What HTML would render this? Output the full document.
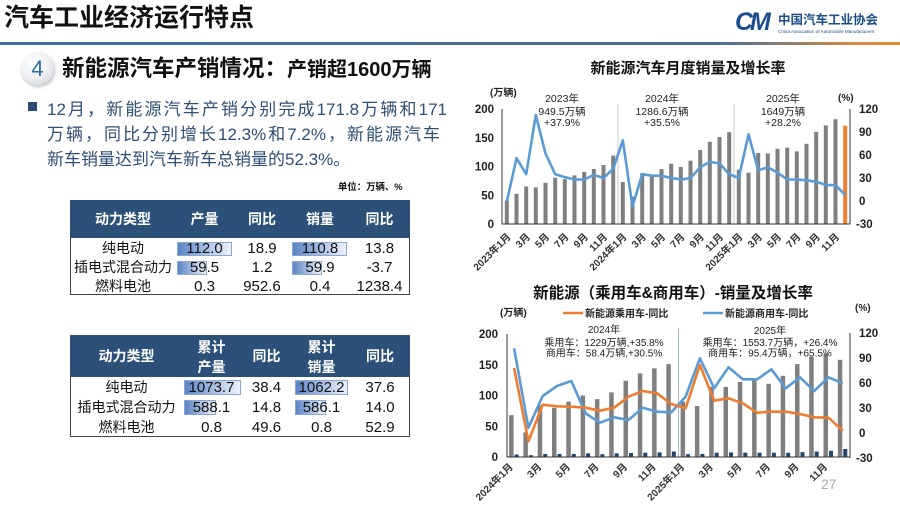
<!DOCTYPE html>
<html><head><meta charset="utf-8">
<style>
*{margin:0;padding:0;box-sizing:border-box}
html,body{width:900px;height:508px;overflow:hidden;background:#fff}
body{position:relative;font-family:"Liberation Sans","Noto Sans CJK SC",sans-serif;color:#111}
.a{position:absolute;white-space:nowrap}
.hd{position:absolute;color:#fff;font-weight:bold;font-size:14px;text-align:center;line-height:16px}
.c{position:absolute;text-align:center;font-size:15px;color:#111;line-height:19px}
.cj{font-size:14px}
.bar{position:absolute;background:linear-gradient(to right,#5a84c3 0%,#9db6df 45%,#eef3fa 100%);border:1px solid #8ca7d6}
</style></head><body>

<div class="a" style="left:4px;top:3px;font-size:25px;font-weight:bold;line-height:30px;color:#111">汽车工业经济运行特点</div>
<div class="a" style="left:735px;top:8px;font-size:25px;font-weight:bold;font-style:italic;color:#1b4d8a;letter-spacing:-3px;line-height:28px">CM</div>
<div class="a" style="left:778px;top:12px;font-size:12.5px;font-weight:bold;color:#1b4d8a;line-height:16px">中国汽车工业协会</div>
<div class="a" style="left:778px;top:29px;font-size:4.6px;color:#1b4d8a;line-height:6px">China Association of Automobile Manufacturers</div>
<div class="a" style="left:0;top:42px;width:900px;height:3px;background:linear-gradient(to right,#3e6e9a 0%,#46709a 80%,#d98b3f 95%,#e08d3a 100%)"></div>

<div class="a" style="left:21px;top:52px;width:33px;height:33px;border-radius:50%;background:radial-gradient(circle at 40% 35%,#ffffff 0%,#eef0f3 50%,#c3c8d0 100%);box-shadow:1px 2px 3px rgba(0,0,0,.25);text-align:center;line-height:33px;font-size:22px;color:#2e6ca4">4</div>
<div class="a" style="left:62px;top:55px;font-size:22.5px;font-weight:bold;line-height:28px;color:#111">新能源汽车产销情况：<span style="font-size:20px">产销超1600万辆</span></div>

<div class="a" style="left:28px;top:102px;width:9px;height:9px;background:#2b4c70"></div>
<div class="a" style="left:47px;top:97px;width:400px;font-size:17px;line-height:25px;color:#2f4f75;text-align:justify;text-align-last:justify;white-space:normal">12月，新能源汽车产销分别完成171.8万辆和171</div>
<div class="a" style="left:47px;top:122px;width:393px;font-size:17px;line-height:25px;color:#2f4f75;text-align:justify;text-align-last:justify;white-space:normal">万辆，同比分别增长12.3%和7.2%，新能源汽车</div>
<div class="a" style="left:47px;top:147px;font-size:17px;line-height:25px;color:#2f4f75">新车销量达到汽车新车总销量的52.3%。</div>

<div class="a" style="left:338px;top:181px;font-size:9.4px;font-weight:bold;line-height:12px;color:#111">单位：万辆、%</div>

<!-- Table 1 -->
<div class="a" style="left:70px;top:200px;width:340px;height:95px;border:1px solid #444"></div>
<div class="a" style="left:70px;top:200px;width:340px;height:38px;background:#2c5179"></div>
<div class="hd" style="left:70px;width:106px;top:211px">动力类型</div>
<div class="hd" style="left:176px;width:57px;top:211px">产量</div>
<div class="hd" style="left:233px;width:58px;top:211px">同比</div>
<div class="hd" style="left:291px;width:58px;top:211px">销量</div>
<div class="hd" style="left:349px;width:61px;top:211px">同比</div>
<div class="bar" style="left:177px;top:242px;width:55px;height:14px"></div>
<div class="bar" style="left:177px;top:261px;width:30px;height:14px"></div>
<div class="bar" style="left:292px;top:242px;width:55px;height:14px"></div>
<div class="bar" style="left:292px;top:261px;width:30px;height:14px"></div>
<div class="c cj" style="left:70px;width:106px;top:238.5px">纯电动</div>
<div class="c cj" style="left:70px;width:106px;top:257.5px">插电式混合动力</div>
<div class="c cj" style="left:70px;width:106px;top:276.5px">燃料电池</div>
<div class="c" style="left:176px;width:57px;top:238.5px">112.0</div>
<div class="c" style="left:176px;width:57px;top:257.5px">59.5</div>
<div class="c" style="left:176px;width:57px;top:276.5px">0.3</div>
<div class="c" style="left:233px;width:58px;top:238.5px">18.9</div>
<div class="c" style="left:233px;width:58px;top:257.5px">1.2</div>
<div class="c" style="left:233px;width:58px;top:276.5px">952.6</div>
<div class="c" style="left:291px;width:58px;top:238.5px">110.8</div>
<div class="c" style="left:291px;width:58px;top:257.5px">59.9</div>
<div class="c" style="left:291px;width:58px;top:276.5px">0.4</div>
<div class="c" style="left:349px;width:61px;top:238.5px">13.8</div>
<div class="c" style="left:349px;width:61px;top:257.5px">-3.7</div>
<div class="c" style="left:349px;width:61px;top:276.5px">1238.4</div>

<!-- Table 2 -->
<div class="a" style="left:70px;top:335px;width:340px;height:102px;border:1px solid #444"></div>
<div class="a" style="left:70px;top:335px;width:340px;height:42px;background:#2c5179"></div>
<div class="hd" style="left:70px;width:113px;top:348px">动力类型</div>
<div class="hd" style="left:183px;width:57px;top:337px;line-height:20px">累计<br>产量</div>
<div class="hd" style="left:240px;width:53px;top:348px">同比</div>
<div class="hd" style="left:293px;width:57px;top:337px;line-height:20px">累计<br>销量</div>
<div class="hd" style="left:350px;width:60px;top:348px">同比</div>
<div class="bar" style="left:184px;top:380px;width:57px;height:15px"></div>
<div class="bar" style="left:184px;top:400px;width:32px;height:15px"></div>
<div class="bar" style="left:295px;top:380px;width:53px;height:15px"></div>
<div class="bar" style="left:295px;top:400px;width:31px;height:15px"></div>
<div class="c cj" style="left:70px;width:113px;top:377.5px">纯电动</div>
<div class="c cj" style="left:70px;width:113px;top:397.5px">插电式混合动力</div>
<div class="c cj" style="left:70px;width:113px;top:417.5px">燃料电池</div>
<div class="c" style="left:183px;width:57px;top:377.5px">1073.7</div>
<div class="c" style="left:183px;width:57px;top:397.5px">588.1</div>
<div class="c" style="left:183px;width:57px;top:417.5px">0.8</div>
<div class="c" style="left:240px;width:53px;top:377.5px">38.4</div>
<div class="c" style="left:240px;width:53px;top:397.5px">14.8</div>
<div class="c" style="left:240px;width:53px;top:417.5px">49.6</div>
<div class="c" style="left:293px;width:57px;top:377.5px">1062.2</div>
<div class="c" style="left:293px;width:57px;top:397.5px">586.1</div>
<div class="c" style="left:293px;width:57px;top:417.5px">0.8</div>
<div class="c" style="left:350px;width:60px;top:377.5px">37.6</div>
<div class="c" style="left:350px;width:60px;top:397.5px">14.0</div>
<div class="c" style="left:350px;width:60px;top:417.5px">52.9</div>

<svg class="a" style="left:0;top:0" width="900" height="508" viewBox="0 0 900 508" font-family="Liberation Sans, Noto Sans CJK SC, sans-serif">
<!-- ===== Chart 1 ===== -->
<text x="688" y="73" text-anchor="middle" font-size="15" font-weight="bold" fill="#111">新能源汽车月度销量及增长率</text>
<line x1="618" y1="104" x2="618" y2="224" stroke="#b8c0c8" stroke-width="0.8"/>
<line x1="734" y1="104" x2="734" y2="224" stroke="#b8c0c8" stroke-width="0.8"/>
<g fill="#7f7f7f">
<rect x="504.8" y="200.5" width="4" height="23.5"/><rect x="514.5" y="193.8" width="4" height="30.2"/><rect x="524.2" y="186.5" width="4" height="37.5"/><rect x="533.8" y="187.4" width="4" height="36.6"/><rect x="543.5" y="182.8" width="4" height="41.2"/><rect x="553.2" y="177.7" width="4" height="46.3"/><rect x="562.8" y="179.1" width="4" height="44.9"/><rect x="572.5" y="175.4" width="4" height="48.6"/><rect x="582.2" y="172.0" width="4" height="52.0"/><rect x="591.8" y="169.0" width="4" height="55.0"/><rect x="601.5" y="165.0" width="4" height="59.0"/><rect x="611.2" y="155.5" width="4" height="68.5"/>
<rect x="620.8" y="182.1" width="4" height="41.9"/><rect x="630.5" y="196.6" width="4" height="27.4"/><rect x="640.2" y="173.2" width="4" height="50.8"/><rect x="649.8" y="175.1" width="4" height="48.9"/><rect x="659.5" y="169.1" width="4" height="54.9"/><rect x="669.2" y="163.7" width="4" height="60.3"/><rect x="678.8" y="167.0" width="4" height="57.0"/><rect x="688.5" y="160.7" width="4" height="63.3"/><rect x="698.2" y="150.0" width="4" height="74.0"/><rect x="707.8" y="141.8" width="4" height="82.2"/><rect x="717.5" y="137.1" width="4" height="86.9"/><rect x="727.2" y="132.2" width="4" height="91.8"/>
<rect x="736.8" y="169.7" width="4" height="54.3"/><rect x="746.5" y="172.7" width="4" height="51.3"/><rect x="756.2" y="152.9" width="4" height="71.1"/><rect x="765.8" y="153.5" width="4" height="70.5"/><rect x="775.5" y="148.8" width="4" height="75.2"/><rect x="785.2" y="147.6" width="4" height="76.4"/><rect x="794.8" y="151.4" width="4" height="72.6"/><rect x="804.5" y="143.8" width="4" height="80.2"/><rect x="814.2" y="131.8" width="4" height="92.2"/><rect x="823.8" y="125.4" width="4" height="98.6"/><rect x="833.5" y="119.2" width="4" height="104.8"/>
</g>
<rect x="843.2" y="125.7" width="4" height="98.3" fill="#ed7d31"/>
<polyline fill="none" stroke="#5b9bd5" stroke-width="2.6" stroke-linejoin="round" points="506.8,201.8 516.5,158.1 526.2,174.2 535.8,115.1 545.5,153.5 555.2,174.2 564.8,177.2 574.5,179.5 584.2,179.5 593.8,174.9 603.5,178.0 613.2,168.8 622.8,140.4 632.5,206.4 642.2,174.2 651.8,175.7 661.5,175.7 671.2,178.0 680.8,179.5 690.5,178.0 700.2,167.3 709.8,161.9 719.5,163.4 729.2,174.2 738.8,178.0 748.5,134.3 758.2,170.3 767.8,167.3 777.5,172.6 787.2,179.5 796.8,179.5 806.5,180.3 816.2,181.8 825.8,184.9 835.5,185.2 845.2,194.9"/>
<g stroke="#333" stroke-width="1">
<line x1="502" y1="109" x2="502" y2="224.5"/>
<line x1="502" y1="224" x2="850" y2="224"/>
<line x1="850" y1="109" x2="850" y2="224.5"/>
</g>
<g font-size="11.5" font-weight="bold" fill="#222" text-anchor="end">
<text x="494" y="113">200</text><text x="494" y="141.8">150</text><text x="494" y="170.5">100</text><text x="494" y="199.3">50</text><text x="494" y="228">0</text>
</g>
<g font-size="11.5" font-weight="bold" fill="#222">
<text x="859" y="113">120</text><text x="859" y="136">90</text><text x="859" y="159">60</text><text x="859" y="182">30</text><text x="859" y="205">0</text><text x="856" y="228">-30</text>
</g>
<text x="490" y="96" font-size="10" font-weight="bold" fill="#222">(万辆)</text>
<text x="838" y="101" font-size="10" font-weight="bold" fill="#222">(%)</text>
<g font-size="10.5" fill="#222" text-anchor="middle">
<text x="562" y="102">2023年</text><text x="562" y="115">949.5万辆</text><text x="562" y="126">+37.9%</text>
<text x="662" y="102">2024年</text><text x="662" y="115">1286.6万辆</text><text x="662" y="126">+35.5%</text>
<text x="783" y="102">2025年</text><text x="783" y="115">1649万辆</text><text x="783" y="126">+28.2%</text>
</g>
<g font-size="10" font-weight="bold" fill="#333" text-anchor="end">
<text transform="translate(508.8,235) rotate(-45)" dy="0.35em">2023年1月</text>
<text transform="translate(528.2,235) rotate(-45)" dy="0.35em">3月</text>
<text transform="translate(547.5,235) rotate(-45)" dy="0.35em">5月</text>
<text transform="translate(566.8,235) rotate(-45)" dy="0.35em">7月</text>
<text transform="translate(586.2,235) rotate(-45)" dy="0.35em">9月</text>
<text transform="translate(605.5,235) rotate(-45)" dy="0.35em">11月</text>
<text transform="translate(624.8,235) rotate(-45)" dy="0.35em">2024年1月</text>
<text transform="translate(644.2,235) rotate(-45)" dy="0.35em">3月</text>
<text transform="translate(663.5,235) rotate(-45)" dy="0.35em">5月</text>
<text transform="translate(682.8,235) rotate(-45)" dy="0.35em">7月</text>
<text transform="translate(702.2,235) rotate(-45)" dy="0.35em">9月</text>
<text transform="translate(721.5,235) rotate(-45)" dy="0.35em">11月</text>
<text transform="translate(740.8,235) rotate(-45)" dy="0.35em">2025年1月</text>
<text transform="translate(760.2,235) rotate(-45)" dy="0.35em">3月</text>
<text transform="translate(779.5,235) rotate(-45)" dy="0.35em">5月</text>
<text transform="translate(798.8,235) rotate(-45)" dy="0.35em">7月</text>
<text transform="translate(818.2,235) rotate(-45)" dy="0.35em">9月</text>
<text transform="translate(837.5,235) rotate(-45)" dy="0.35em">11月</text>
</g>

<!-- ===== Chart 2 ===== -->
<text x="673" y="298" text-anchor="middle" font-size="15.5" font-weight="bold" fill="#111">新能源（乘用车&amp;商用车）-销量及增长率</text>
<text x="500" y="316" font-size="10" font-weight="bold" fill="#222">(万辆)</text>
<text x="855" y="311" font-size="10" font-weight="bold" fill="#222">(%)</text>
<line x1="563" y1="313" x2="583" y2="313" stroke="#ed7d31" stroke-width="2.5"/>
<text x="585" y="317" font-size="10" font-weight="bold" fill="#222">新能源乘用车-同比</text>
<line x1="703" y1="313" x2="723" y2="313" stroke="#5b9bd5" stroke-width="2.5"/>
<text x="725" y="317" font-size="10" font-weight="bold" fill="#222">新能源商用车-同比</text>
<line x1="678.5" y1="328" x2="678.5" y2="457" stroke="#9fb3c9" stroke-width="0.9"/>
<g fill="#7f7f7f">
<rect x="509.1" y="415.2" width="4.5" height="41.8"/><rect x="523.4" y="432.4" width="4.5" height="24.6"/><rect x="537.7" y="405.3" width="4.5" height="51.7"/><rect x="552.0" y="407.8" width="4.5" height="49.2"/><rect x="566.3" y="401.6" width="4.5" height="55.4"/><rect x="580.6" y="395.5" width="4.5" height="61.5"/><rect x="594.9" y="399.2" width="4.5" height="57.8"/><rect x="609.2" y="392.4" width="4.5" height="64.6"/><rect x="623.5" y="380.7" width="4.5" height="76.3"/><rect x="637.8" y="373.4" width="4.5" height="83.6"/><rect x="652.1" y="368.4" width="4.5" height="88.6"/><rect x="666.3" y="364.1" width="4.5" height="92.9"/>
<rect x="680.6" y="401.6" width="4.5" height="55.4"/><rect x="694.9" y="406.0" width="4.5" height="51.0"/><rect x="709.2" y="386.9" width="4.5" height="70.1"/><rect x="723.5" y="386.9" width="4.5" height="70.1"/><rect x="737.8" y="382.0" width="4.5" height="75.0"/><rect x="752.1" y="380.1" width="4.5" height="76.9"/><rect x="766.4" y="383.8" width="4.5" height="73.2"/><rect x="780.7" y="375.8" width="4.5" height="81.2"/><rect x="795.0" y="364.1" width="4.5" height="92.9"/><rect x="809.2" y="356.8" width="4.5" height="100.2"/><rect x="823.5" y="353.7" width="4.5" height="103.3"/><rect x="837.8" y="359.8" width="4.5" height="97.2"/>
</g>
<g fill="#23476c">
<rect x="514.6" y="454.5" width="4" height="2.5"/><rect x="528.9" y="455.2" width="4" height="1.8"/><rect x="543.2" y="453.9" width="4" height="3.1"/><rect x="557.5" y="453.9" width="4" height="3.1"/><rect x="571.8" y="453.9" width="4" height="3.1"/><rect x="586.1" y="453.3" width="4" height="3.7"/><rect x="600.4" y="454.2" width="4" height="2.8"/><rect x="614.7" y="453.3" width="4" height="3.7"/><rect x="629.0" y="453.0" width="4" height="4.0"/><rect x="643.3" y="452.7" width="4" height="4.3"/><rect x="657.6" y="452.4" width="4" height="4.6"/><rect x="671.8" y="451.5" width="4" height="5.5"/>
<rect x="686.1" y="454.2" width="4" height="2.8"/><rect x="700.4" y="453.9" width="4" height="3.1"/><rect x="714.7" y="452.7" width="4" height="4.3"/><rect x="729.0" y="452.4" width="4" height="4.6"/><rect x="743.3" y="452.7" width="4" height="4.3"/><rect x="757.6" y="452.7" width="4" height="4.3"/><rect x="771.9" y="452.7" width="4" height="4.3"/><rect x="786.2" y="452.7" width="4" height="4.3"/><rect x="800.5" y="452.1" width="4" height="4.9"/><rect x="814.7" y="451.5" width="4" height="5.5"/><rect x="829.0" y="450.8" width="4" height="6.2"/><rect x="843.3" y="449.0" width="4" height="8.0"/>
</g>
<g font-size="10" fill="#222" text-anchor="middle">
<text x="604" y="333">2024年</text>
<text x="604" y="346">乘用车：1229万辆,+35.8%</text>
<text x="604" y="356.5">商用车：58.4万辆,+30.5%</text>
<text x="770" y="334">2025年</text>
<text x="770" y="346">乘用车：1553.7万辆，+26.4%</text>
<text x="770" y="356.5">商用车：95.4万辆，+65.5%</text>
</g>
<polyline fill="none" stroke="#5b9bd5" stroke-width="2.6" stroke-linejoin="round" points="514.1,348.3 528.4,427.7 542.7,396.0 557.0,386.0 571.3,381.0 585.6,413.3 599.9,422.7 614.2,417.3 628.5,420.0 642.8,407.7 657.1,411.7 671.3,412.3 685.6,396.7 699.9,358.3 714.2,388.3 728.5,367.3 742.8,379.3 757.1,379.3 771.4,369.3 785.7,388.3 800.0,377.3 814.2,391.0 828.5,377.3 842.8,383.3"/>
<polyline fill="none" stroke="#ed7d31" stroke-width="2.6" stroke-linejoin="round" points="514.1,368.0 528.4,441.3 542.7,404.7 557.0,406.3 571.3,406.7 585.6,407.7 599.9,410.7 614.2,407.7 628.5,396.7 642.8,391.0 657.1,393.3 671.3,404.0 685.6,408.3 699.9,365.0 714.2,400.7 728.5,398.3 742.8,403.3 757.1,412.7 771.4,411.7 785.7,411.7 800.0,414.0 814.2,417.3 828.5,417.7 842.8,430.7"/>
<g stroke="#333" stroke-width="1">
<line x1="507" y1="334" x2="507" y2="457.5"/>
<line x1="507" y1="457" x2="850" y2="457"/>
<line x1="850" y1="333" x2="850" y2="458"/>
</g>
<g font-size="11.5" font-weight="bold" fill="#222" text-anchor="end">
<text x="498" y="338">200</text><text x="498" y="368.8">150</text><text x="498" y="399.5">100</text><text x="498" y="430.3">50</text><text x="498" y="461">0</text>
</g>
<g font-size="11.5" font-weight="bold" fill="#222">
<text x="859" y="337">120</text><text x="859" y="362">90</text><text x="859" y="387">60</text><text x="859" y="412">30</text><text x="859" y="437">0</text><text x="856" y="462">-30</text>
</g>
<g font-size="10" font-weight="bold" fill="#333" text-anchor="end">
<text transform="translate(511.1,465) rotate(-45)" dy="0.35em">2024年1月</text>
<text transform="translate(539.7,465) rotate(-45)" dy="0.35em">3月</text>
<text transform="translate(568.3,465) rotate(-45)" dy="0.35em">5月</text>
<text transform="translate(596.9,465) rotate(-45)" dy="0.35em">7月</text>
<text transform="translate(625.5,465) rotate(-45)" dy="0.35em">9月</text>
<text transform="translate(654.1,465) rotate(-45)" dy="0.35em">11月</text>
<text transform="translate(682.6,465) rotate(-45)" dy="0.35em">2025年1月</text>
<text transform="translate(711.2,465) rotate(-45)" dy="0.35em">3月</text>
<text transform="translate(739.8,465) rotate(-45)" dy="0.35em">5月</text>
<text transform="translate(768.4,465) rotate(-45)" dy="0.35em">7月</text>
<text transform="translate(797.0,465) rotate(-45)" dy="0.35em">9月</text>
<text transform="translate(825.5,465) rotate(-45)" dy="0.35em">11月</text>
</g>
<text x="821" y="489" font-size="14" fill="#aaa">27</text>
</svg>
</body></html>
